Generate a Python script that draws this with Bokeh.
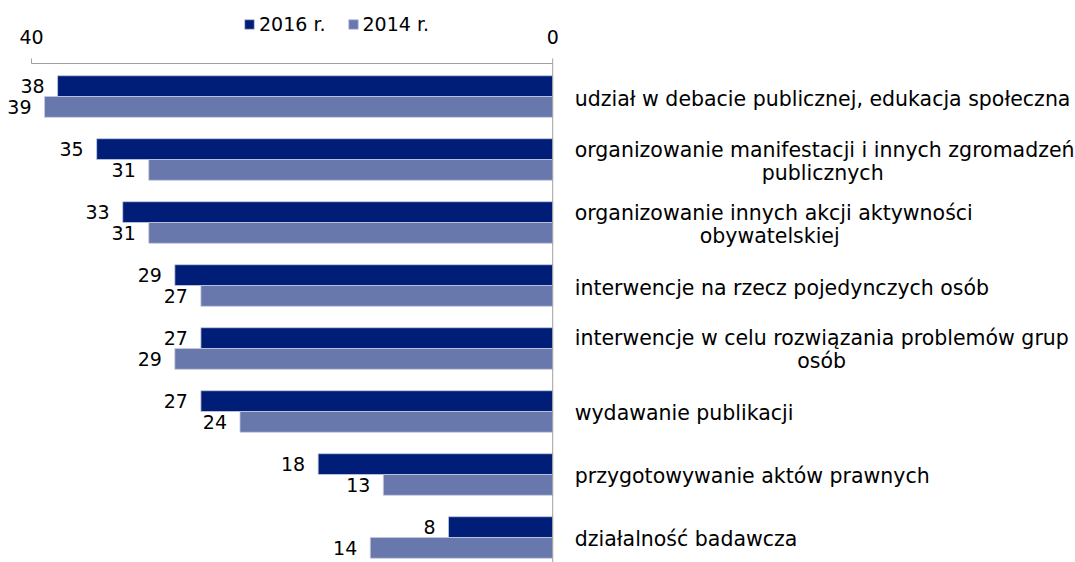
import numpy as np
from bokeh.plotting import figure
from bokeh.models import Range1d, Legend, LegendItem
from bokeh.embed import file_html
from bokeh.resources import INLINE
from bokeh.core.properties import value

# ---------------- data ----------------
categories = [
    "udział w debacie publicznej, edukacja społeczna",
    "organizowanie manifestacji i innych zgromadzeń\npublicznych",
    "organizowanie innych akcji aktywności\nobywatelskiej",
    "interwencje na rzecz pojedynczych osób",
    "interwencje w celu rozwiązania problemów grup\nosób",
    "wydawanie publikacji",
    "przygotowywanie aktów prawnych",
    "działalność badawcza",
]
v2016 = [38, 35, 33, 29, 27, 27, 18, 8]
v2014 = [39, 31, 31, 27, 29, 24, 13, 14]
series_names = ["2016 r.", "2014 r."]
x_ticks = [40, 0]

# ---------------- style ----------------
FONT = "DejaVu Sans"
NUM_SIZE = "19px"
CAT_SIZE = "20.5px"
C2016 = "#001d78"
C2014 = "#6878ad"
EDGE = "#c4cadf"
AXC = "#a0a0a0"
TXT = "#000000"

idx = np.arange(len(categories))
bar_h = 0.33
y16 = idx - bar_h / 2
y14 = idx + bar_h / 2

AXIS_Y = -0.524        # position of the top value axis (data units)
TICK_TOP = AXIS_Y - 0.08
TICK_LABEL_Y = -0.95

p = figure(width=1075, height=562, output_backend="svg", toolbar_location=None,
           x_range=Range1d(42.379, -40.12), y_range=Range1d(7.397, -1.524),
           x_axis_location=None, y_axis_location=None, min_border=0)
p.outline_line_color = None
p.grid.visible = False
p.background_fill_color = "white"
p.border_fill_color = "white"

# bars
r16 = p.hbar(y=y16, left=0, right=v2016, height=bar_h, fill_color=C2016,
             line_color=EDGE, line_width=0.8)
r14 = p.hbar(y=y14, left=0, right=v2014, height=bar_h, fill_color=C2014,
             line_color=EDGE, line_width=0.8)

# value labels
p.text(x=v2016, y=y16, text=[str(v) for v in v2016], x_offset=-13, text_align="right",
       text_baseline="middle", text_font=value(FONT), text_font_size=NUM_SIZE, text_color=TXT)
p.text(x=v2014, y=y14, text=[str(v) for v in v2014], x_offset=-13, text_align="right",
       text_baseline="middle", text_font=value(FONT), text_font_size=NUM_SIZE, text_color=TXT)

# top value axis: line, ticks, labels
p.segment(x0=[max(x_ticks)], y0=[AXIS_Y], x1=[min(x_ticks)], y1=[AXIS_Y], line_color=AXC, line_width=1)
p.segment(x0=x_ticks, y0=[AXIS_Y] * len(x_ticks), x1=x_ticks, y1=[TICK_TOP] * len(x_ticks),
          line_color=AXC, line_width=1)
p.text(x=x_ticks, y=[TICK_LABEL_Y] * len(x_ticks), text=[str(t) for t in x_ticks], text_align="center",
       text_baseline="middle", text_font=value(FONT), text_font_size=NUM_SIZE, text_color=TXT)
# category axis line at 0
p.segment(x0=[0], y0=[AXIS_Y], x1=[0], y1=[p.y_range.start], line_color=AXC, line_width=1)

# category labels (right side)
first_lines = [c.split("\n")[0] for c in categories]
multi = [i for i, c in enumerate(categories) if "\n" in c]
single = [i for i, c in enumerate(categories) if "\n" not in c]
p.text(x=[0] * len(single), y=[int(i) for i in single], text=[first_lines[i] for i in single],
       x_offset=22, y_offset=2, text_align="left", text_baseline="middle",
       text_font=value(FONT), text_font_size=CAT_SIZE, text_color=TXT)
p.text(x=[0] * len(multi), y=[int(i) for i in multi], text=[first_lines[i] for i in multi],
       x_offset=22, y_offset=-10, text_align="left", text_baseline="middle",
       text_font=value(FONT), text_font_size=CAT_SIZE, text_color=TXT)
second_offsets = {1: 270, 2: 217, 4: 269}
for i, off in second_offsets.items():
    p.text(x=[0], y=[i], text=[categories[i].split("\n")[1]], x_offset=off, y_offset=13,
           text_align="center", text_baseline="middle",
           text_font=value(FONT), text_font_size=CAT_SIZE, text_color=TXT)

# legend
legend = Legend(items=[LegendItem(label=series_names[0], renderers=[r16]),
                       LegendItem(label=series_names[1], renderers=[r14])],
                orientation="horizontal", location=(243, 527))
legend.background_fill_alpha = 0
legend.border_line_color = None
legend.label_text_font = FONT
legend.label_text_font_size = NUM_SIZE
legend.label_text_color = TXT
legend.glyph_width = 12
legend.glyph_height = 12
legend.label_height = 22
legend.label_standoff = 4
legend.spacing = 21
legend.padding = 0
legend.margin = 0
p.add_layout(legend, "center")

open("out.html", "w").write(file_html(p, INLINE))
